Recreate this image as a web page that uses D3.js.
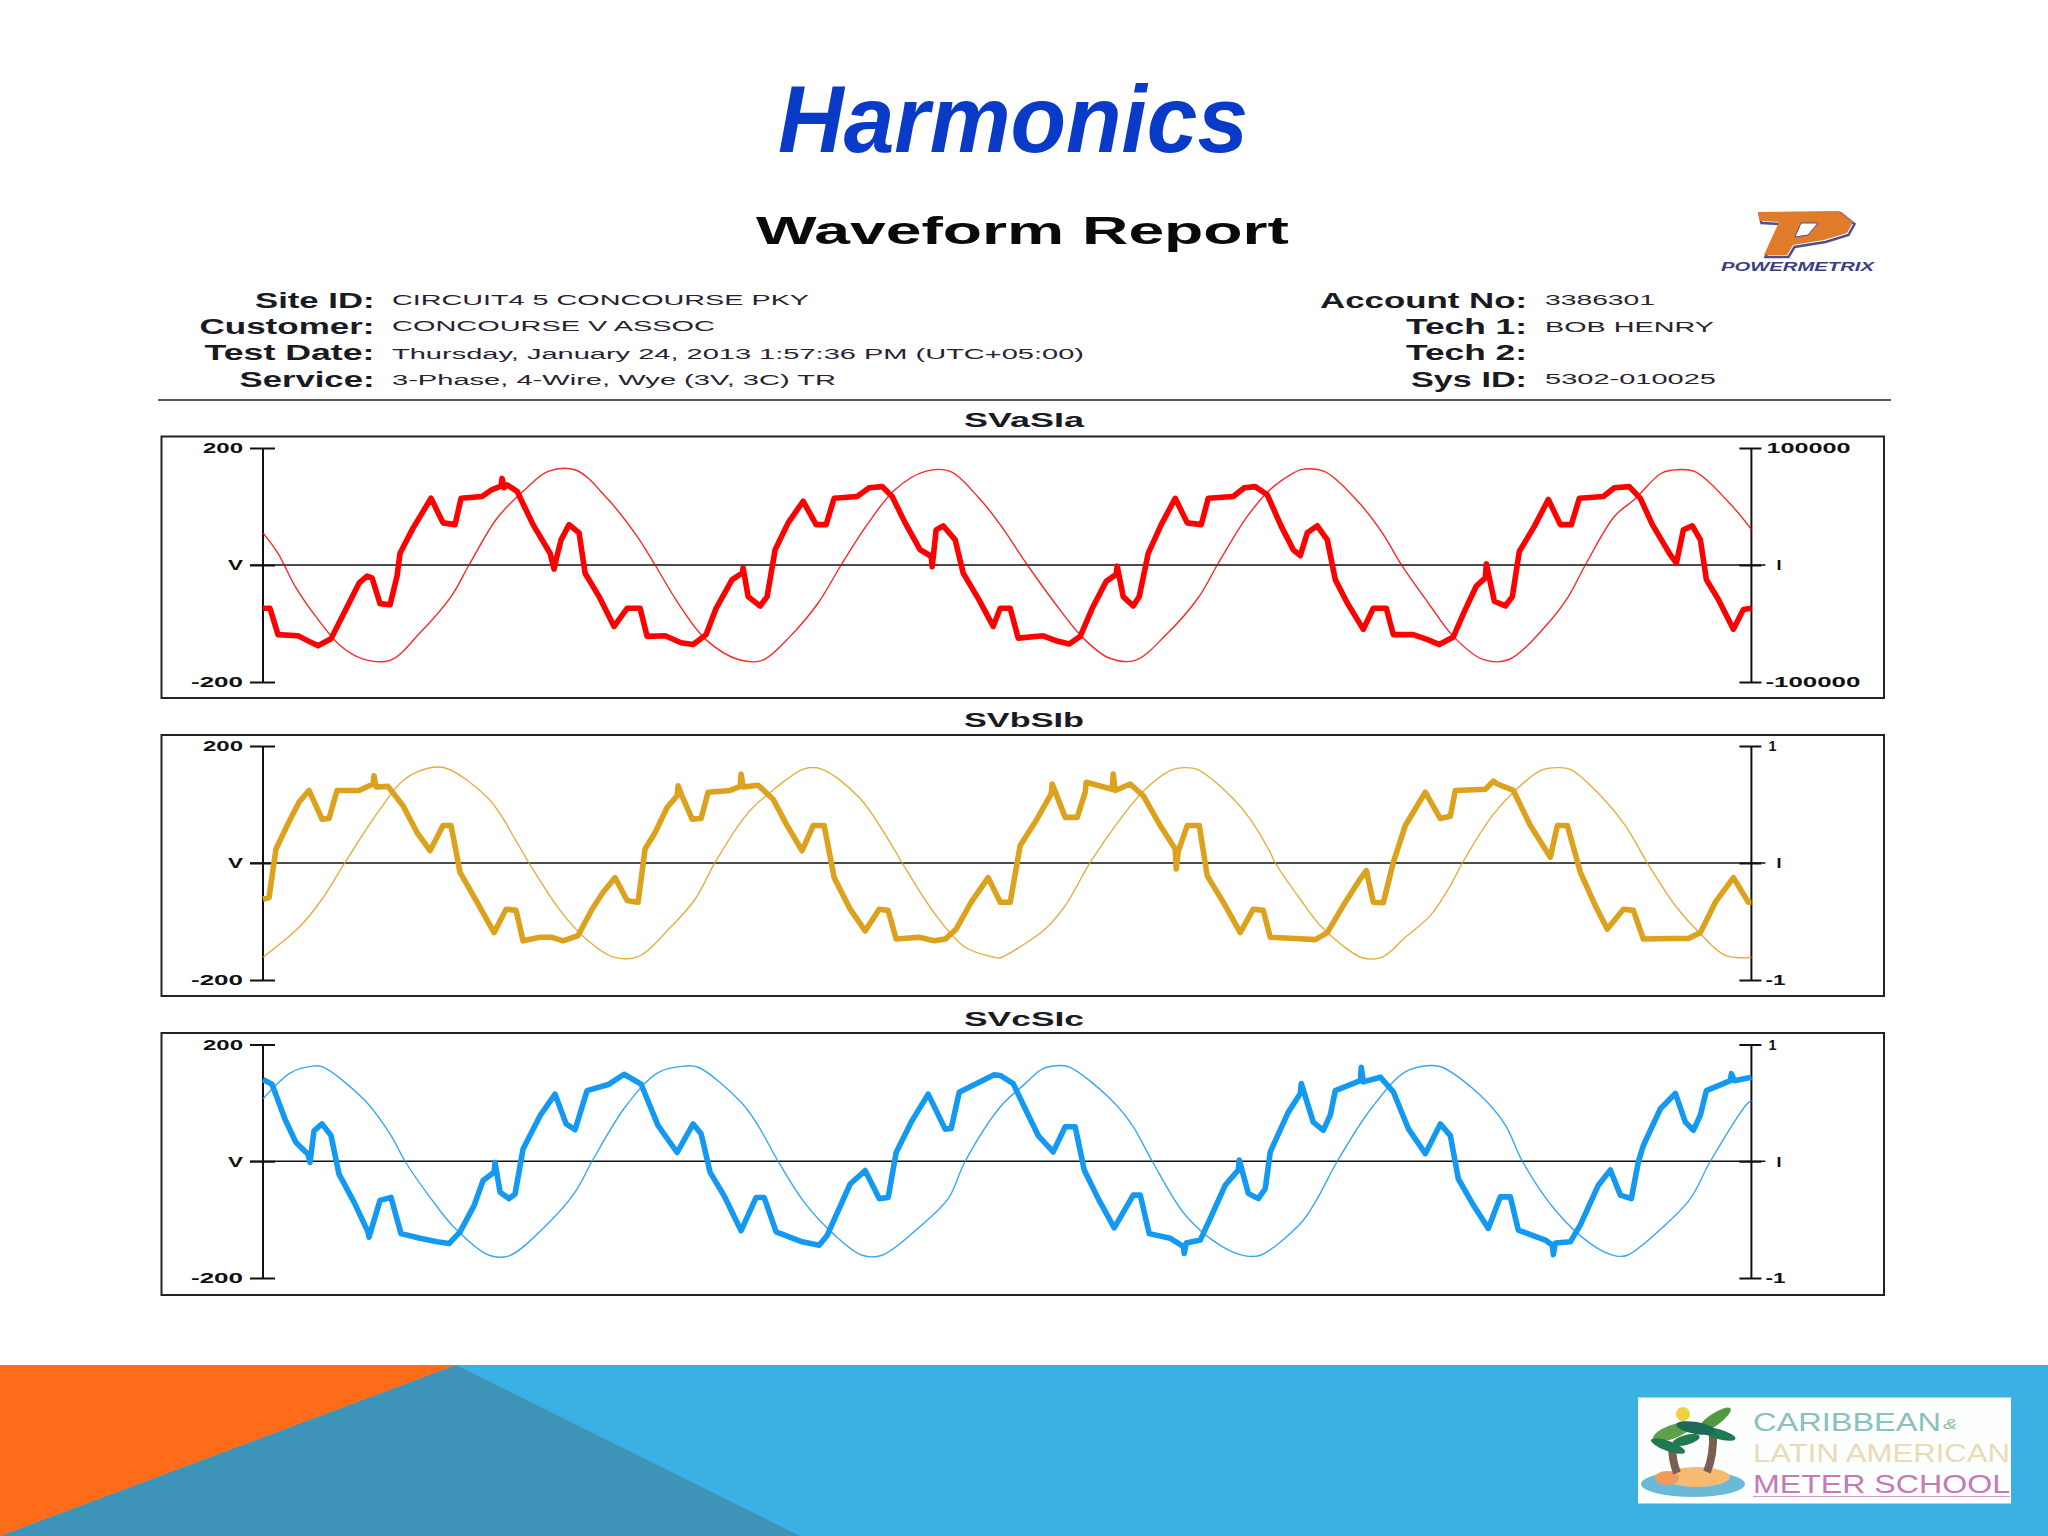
<!DOCTYPE html>
<html><head><meta charset="utf-8">
<script src="https://cdn.jsdelivr.net/npm/d3@7/dist/d3.min.js"></script>
<style>html,body{margin:0;padding:0;background:#fff}svg{display:block}text{font-family:"Liberation Sans",Arial,sans-serif}</style>
</head><body><svg id="c" width="2048" height="1536"></svg>
<script>
// samples are [sample index, value]
const waveVa=[[0,-74],[7,-74],[15,-119],[35,-121],[43,-128],[55,-138],[68,-126],[81,-82],[96,-31],[104,-19],[109,-22],[117,-66],[127,-68],[134,-19],[137,20],[150,63],[168,114],[180,72],[192,69],[198,114],[219,117],[229,129],[238,135],[239,148],[241,132],[244,137],[254,126],[270,69],[287,20],[291,-7],[293,9],[298,43],[306,69],[316,55],[322,-14],[336,-54],[351,-105],[364,-74],[377,-74],[384,-122],[402,-121],[418,-133],[430,-136],[443,-119],[453,-74],[469,-25],[479,-14],[480,-5],[485,-54],[497,-70],[504,-54],[512,26],[525,72],[540,109],[553,69],[563,69],[571,114],[594,117],[606,132],[619,134],[629,117],[642,72],[657,26],[668,15],[669,-3],[673,60],[680,67],[692,43],[700,-14],[716,-60],[730,-105],[737,-74],[747,-74],[755,-125],[780,-121],[794,-130],[806,-135],[817,-122],[829,-74],[843,-28],[853,-16],[854,-2],[860,-54],[870,-70],[876,-54],[885,20],[898,69],[912,114],[924,72],[938,69],[945,114],[970,117],[981,132],[992,134],[1004,120],[1018,66],[1030,26],[1037,16],[1044,55],[1054,67],[1064,43],[1072,-25],[1084,-65],[1100,-110],[1110,-74],[1123,-74],[1130,-119],[1150,-119],[1165,-128],[1176,-136],[1190,-123],[1202,-76],[1213,-36],[1222,-22],[1223,2],[1231,-62],[1242,-70],[1249,-54],[1256,23],[1271,66],[1285,112],[1297,69],[1308,69],[1316,114],[1340,117],[1351,132],[1366,134],[1377,114],[1389,69],[1406,20],[1413,3],[1420,60],[1429,67],[1437,43],[1443,-25],[1455,-59],[1470,-110],[1480,-76],[1488,-74]];
const waveIa=[[0,27500],[15,10000],[32,-18000],[55,-46500],[78,-69500],[99,-80000],[127,-81500],[157,-58000],[188,-27000],[206,0],[234,40000],[262,64500],[285,80000],[313,81000],[344,57000],[374,24500],[392,0],[415,-32500],[443,-64000],[476,-81000],[499,-81500],[527,-61000],[555,-32500],[578,0],[604,34500],[632,64500],[662,80000],[687,80000],[716,57000],[737,34500],[763,1500],[789,-29500],[820,-62500],[846,-79500],[872,-81500],[903,-59500],[935,-28000],[955,1500],[984,41500],[1007,64500],[1030,78500],[1038,81500],[1061,80000],[1096,53000],[1119,27500],[1139,-1000],[1165,-32500],[1190,-61000],[1219,-80500],[1245,-81000],[1285,-49500],[1305,-27000],[1322,0],[1351,41500],[1371,56000],[1397,78000],[1408,81000],[1431,80000],[1466,53000],[1488,30500]];
const waveVb=[[0,-62],[6,-59],[13,24],[25,67],[36,104],[46,124],[59,75],[66,76],[74,124],[96,124],[110,135],[111,149],[113,130],[125,131],[140,98],[154,52],[167,21],[180,64],[188,64],[197,-16],[214,-67],[231,-119],[243,-79],[253,-81],[260,-133],[277,-127],[289,-127],[300,-133],[315,-124],[329,-79],[340,-50],[352,-25],[364,-64],[375,-67],[382,24],[392,52],[404,95],[414,115],[415,132],[418,118],[429,75],[438,76],[445,121],[467,124],[477,131],[478,152],[480,130],[495,133],[510,109],[524,64],[539,21],[550,64],[561,64],[571,-25],[587,-79],[602,-116],[616,-79],[625,-81],[633,-130],[656,-127],[671,-133],[682,-130],[693,-113],[708,-67],[725,-25],[737,-67],[747,-67],[757,30],[772,70],[788,118],[789,135],[802,78],[814,78],[822,121],[823,138],[849,126],[850,152],[852,124],[867,135],[880,115],[897,64],[912,24],[913,-10],[915,20],[924,64],[936,64],[944,-22],[960,-67],[977,-119],[990,-79],[1000,-81],[1007,-127],[1032,-129],[1052,-131],[1064,-119],[1082,-67],[1097,-27],[1103,-13],[1110,-67],[1120,-68],[1130,1],[1142,64],[1162,121],[1177,76],[1187,80],[1192,124],[1222,126],[1230,140],[1234,135],[1250,124],[1267,64],[1287,10],[1294,64],[1304,64],[1317,-16],[1332,-73],[1344,-113],[1360,-79],[1370,-81],[1380,-130],[1407,-129],[1425,-129],[1437,-119],[1452,-67],[1470,-25],[1485,-67],[1488,-67]];
const waveIb=[[0,-.805],[36,-.55],[59,-.31],[82,.005],[117,.46],[140,.705],[165,.81],[183,.81],[226,.545],[254,.175],[266,0],[297,-.405],[323,-.65],[349,-.8],[375,-.8],[409,-.535],[432,-.31],[452,.005],[484,.42],[513,.645],[541,.805],[558,.805],[596,.56],[627,.175],[639,0],[673,-.45],[702,-.72],[731,-.805],[737,-.81],[759,-.705],[782,-.565],[802,-.365],[827,.005],[857,.375],[882,.63],[907,.79],[922,.815],[934,.8],[967,.575],[987,.375],[1007,.09],[1012,0],[1037,-.31],[1057,-.535],[1077,-.69],[1099,-.81],[1119,-.805],[1142,-.635],[1167,-.45],[1187,-.195],[1199,0],[1229,.405],[1252,.62],[1277,.79],[1294,.815],[1307,.8],[1339,.56],[1362,.32],[1384,0],[1412,-.365],[1437,-.605],[1462,-.79],[1488,-.805]];
const waveVc=[[0,140],[9,132],[22,72],[33,32],[45,12],[47,-2],[51,52],[59,64],[68,44],[76,-22],[91,-70],[105,-121],[106,-130],[117,-67],[128,-62],[138,-124],[157,-132],[174,-138],[186,-141],[197,-121],[211,-76],[220,-33],[231,-19],[232,-2],[237,-53],[246,-64],[252,-56],[260,21],[277,78],[292,115],[303,64],[312,54],[324,121],[346,132],[361,149],[378,132],[395,61],[414,15],[430,64],[438,47],[447,-19],[461,-59],[478,-119],[493,-62],[501,-62],[513,-121],[539,-138],[556,-144],[564,-127],[587,-39],[602,-16],[616,-64],[625,-62],[633,15],[648,67],[665,115],[682,55],[688,56],[696,118],[731,148],[737,147],[750,133],[762,90],[775,44],[790,16],[802,59],[812,59],[821,-15],[835,-64],[851,-114],[870,-58],[877,-58],[886,-124],[907,-132],[920,-146],[921,-158],[923,-140],[937,-135],[947,-98],[962,-41],[975,-15],[976,2],[985,-55],[995,-64],[1002,-47],[1007,16],[1025,84],[1037,116],[1038,133],[1050,67],[1060,53],[1067,79],[1072,121],[1097,138],[1098,161],[1100,136],[1117,144],[1130,119],[1145,56],[1162,13],[1177,64],[1187,44],[1195,-30],[1210,-75],[1225,-115],[1237,-61],[1247,-61],[1255,-118],[1282,-135],[1289,-144],[1290,-160],[1292,-140],[1307,-138],[1317,-109],[1335,-41],[1347,-15],[1357,-58],[1368,-64],[1375,-1],[1380,27],[1397,90],[1412,116],[1422,67],[1430,53],[1437,79],[1443,121],[1467,138],[1468,150],[1471,138],[1488,144]];
const waveIc=[[0,.535],[28,.76],[50,.815],[59,.81],[102,.52],[128,.22],[142,0],[168,-.32],[191,-.565],[226,-.805],[246,-.81],[283,-.55],[312,-.265],[329,0],[363,.475],[395,.76],[421,.815],[435,.805],[478,.505],[495,.305],[515,0],[541,-.35],[570,-.62],[599,-.805],[619,-.805],[656,-.565],[685,-.32],[702,0],[737,.465],[762,.665],[779,.79],[797,.82],[807,.805],[847,.535],[869,.31],[889,0],[922,-.46],[957,-.72],[982,-.81],[997,-.805],[1037,-.535],[1054,-.32],[1074,0],[1109,.465],[1142,.765],[1167,.82],[1179,.805],[1217,.565],[1242,.31],[1259,0],[1292,-.42],[1327,-.705],[1352,-.81],[1364,-.805],[1402,-.545],[1427,-.32],[1447,0],[1484,.495],[1488,.52]];

const panelNames=["SVaSIa","SVbSIb","SVcSIc"];
const panelColors=["#ff0000","#dca11d","#1499f2"];
const currentMax=[100000,1,1];
const voltTicks=[-200,0,200];
const leftLabels=["-200","V","200"];
const rightLabels=[["-100000","I","100000"],["-1","I","1"],["-1","I","1"]];
const headerLeft=[["Site ID:","CIRCUIT4 5 CONCOURSE PKY"],["Customer:","CONCOURSE V ASSOC"],["Test Date:","Thursday, January 24, 2013 1:57:36 PM (UTC+05:00)"],["Service:","3-Phase, 4-Wire, Wye (3V, 3C) TR"]];
const headerRight=[["Account No:","3386301"],["Tech 1:","BOB HENRY"],["Tech 2:",""],["Sys ID:","5302-010025"]];

const svg=d3.select("#c");
// footer band
svg.append("rect").attr("x",0).attr("y",1365).attr("width",2048).attr("height",171).attr("fill","#3bb0e2");
svg.append("path").attr("d","M0,1536L456,1365L800,1536Z").attr("fill","#3d94b8");
svg.append("path").attr("d","M0,1365L456,1365L0,1536Z").attr("fill","#fe6b19");

function fitted(parent,str,x,y,w,size,bold,fill,anchor){
  const t=parent.append("text").attr("x",x).attr("y",y).attr("font-size",size).attr("fill",fill||"#111").text(str);
  if(bold)t.attr("font-weight","bold");
  if(anchor)t.attr("text-anchor",anchor);
  if(w)t.attr("textLength",w).attr("lengthAdjust","spacingAndGlyphs");
  return t;
}
// titles
fitted(svg,"Harmonics",778,151.5,470,94,true,"#0a3ac8").attr("font-style","italic");
fitted(svg,"Waveform Report",756,244,533,38,true,"#0a0a0a");

// header
const leftW=[119.5,175,170,135],leftY=[308,334,359.5,387],leftValW=[417,323,692,444],leftValY=[305,331,359,385];
headerLeft.forEach((h,i)=>{
  fitted(svg,h[0],374.5-leftW[i],leftY[i],leftW[i],22,true,"#1a1a22");
  fitted(svg,h[1],392,leftValY[i],leftValW[i],15.5,false,"#2a2030");
});
const rightW=[207,121,121,116],rightY=[308,334,360,387],rightValW=[110,169,0,171],rightValY=[305,331.5,0,384];
headerRight.forEach((h,i)=>{
  fitted(svg,h[0],1527-rightW[i],rightY[i],rightW[i],22,true,"#1a1a22");
  if(h[1])fitted(svg,h[1],1545,rightValY[i],rightValW[i],15.5,false,"#2a2030");
});
svg.append("line").attr("x1",158).attr("x2",1891).attr("y1",400).attr("y2",400).attr("stroke","#222").attr("stroke-width",1.6);

// powermetrix logo
const lg=svg.append("g");
const pPath="M1758,212L1839,211L1853,222L1847,233L1824,240L1793,245L1787,255L1764,255L1779,222L1760,221Z";
lg.append("path").attr("d",pPath).attr("fill","none").attr("stroke","#4a4f90").attr("stroke-width",2.5).attr("transform","translate(1.5,2)");
lg.append("path").attr("d",pPath).attr("fill","#e07b2b");
lg.append("path").attr("d","M1801,223L1818,223L1808,235L1795,237Z").attr("fill","#fff").attr("stroke","#4a4f90").attr("stroke-width",1);
fitted(lg,"POWERMETRIX",1721,271,153,13,true,"#3b3f80").attr("font-style","italic");

// panels
const boxes=[[436.5,698],[735,996],[1033,1295]];
const tickTB=[[448,682],[746,980],[1044.5,1278]];
const titleY=[427,727,1026];
const wavesV=[waveVa,waveVb,waveVc],wavesI=[waveIa,waveIb,waveIc];
const x=d3.scaleLinear().domain([0,1488]).range([263,1751.4]);
panelNames.forEach((name,p)=>{
  const g=svg.append("g");
  g.append("rect").attr("x",161.5).attr("y",boxes[p][0]).attr("width",1722.5).attr("height",boxes[p][1]-boxes[p][0]).attr("fill","#fff").attr("stroke","#222").attr("stroke-width",2);
  fitted(g,name,964,titleY[p],120,21,true,"#1a1a22");
  const yV=d3.scaleLinear().domain([-200,200]).range([tickTB[p][1],tickTB[p][0]]);
  const yI=d3.scaleLinear().domain([-currentMax[p],currentMax[p]]).range([tickTB[p][1],tickTB[p][0]]);
  // zero line
  g.append("line").attr("x1",x(0)-13).attr("x2",x(1488)+14).attr("y1",yV(0)).attr("y2",yV(0)).attr("stroke","#111").attr("stroke-width",1.6);
  // axes
  const axL=d3.axisLeft(yV).tickValues(voltTicks).tickFormat((d,i)=>leftLabels[i]).tickSize(13).tickPadding(7);
  const gl=g.append("g").attr("transform",`translate(${x(0)},0)`).call(axL);
  gl.select(".domain").attr("stroke","#111").attr("stroke-width",2).attr("d",`M0,${tickTB[p][0]}V${tickTB[p][1]}`);
  gl.selectAll(".tick line").attr("stroke","#111").attr("stroke-width",2).attr("x1",-13).attr("x2",12);
  gl.selectAll(".tick text").attr("font-family","'DejaVu Sans',sans-serif").attr("font-weight","bold").attr("font-size",15).attr("fill","#111")
    .attr("textLength",(d,i)=>[52,15,40][i]).attr("lengthAdjust","spacingAndGlyphs");
  const axR=d3.axisRight(yI).tickValues([-currentMax[p],0,currentMax[p]]).tickFormat((d,i)=>rightLabels[p][i]).tickSize(10).tickPadding(16);
  const gr=g.append("g").attr("transform",`translate(${x(1488)},0)`).call(axR);
  gr.select(".domain").attr("stroke","#111").attr("stroke-width",2).attr("d",`M0,${tickTB[p][0]}V${tickTB[p][1]}`);
  gr.selectAll(".tick line").attr("stroke","#111").attr("stroke-width",2).attr("x1",-12).attr("x2",10);
  gr.selectAll(".tick text").attr("font-family","'DejaVu Sans',sans-serif").attr("font-weight","bold").attr("font-size",15).attr("fill","#111");
  if(p===0){
    gr.selectAll(".tick text").attr("textLength",(d,i)=>[95,5,84][i]).attr("lengthAdjust","spacingAndGlyphs")
      .attr("x",(d,i)=>[14,25,15][i]);
  }else{
    gr.selectAll(".tick text").attr("textLength",(d,i)=>[20,5,8][i]).attr("lengthAdjust","spacingAndGlyphs")
      .attr("x",(d,i)=>[14,25,17][i]);
  }
  // curves
  g.append("path").datum(wavesI[p]).attr("fill","none").attr("stroke",panelColors[p]).attr("stroke-width",1.4).attr("opacity",.85)
    .attr("d",d3.line().curve(d3.curveCatmullRom.alpha(.5)).x(d=>x(d[0])).y(d=>yI(d[1])));
  g.append("path").datum(wavesV[p]).attr("fill","none").attr("stroke",panelColors[p]).attr("stroke-width",5.6).attr("stroke-linejoin","round").attr("stroke-linecap","butt")
    .attr("d",d3.line().x(d=>x(d[0])).y(d=>yV(d[1])));
});

// school logo
const sl=svg.append("g");
sl.append("rect").attr("x",1638).attr("y",1397.5).attr("width",373).attr("height",106).attr("fill","#fdfefe");
fitted(sl,"CARIBBEAN",1753,1431,188,26.5,false,"#8cc0bf");
fitted(sl,"&",1943,1429,14,14,false,"#8cc0a0").attr("font-style","italic");
fitted(sl,"LATIN AMERICAN",1753,1462,257,26.5,false,"#e9dbb4");
fitted(sl,"METER SCHOOL",1753,1493,257,26.5,false,"#c679b9");
sl.append("line").attr("x1",1753).attr("x2",2010).attr("y1",1496.5).attr("y2",1496.5).attr("stroke","#c9a0c4").attr("stroke-width",1);
sl.append("ellipse").attr("cx",1693).attr("cy",1484).attr("rx",52).attr("ry",13).attr("fill","#6bb9d8");
sl.append("ellipse").attr("cx",1697).attr("cy",1477).attr("rx",33).attr("ry",10).attr("fill","#f6bb73");
sl.append("ellipse").attr("cx",1667).attr("cy",1478).attr("rx",12).attr("ry",7).attr("fill","#f09a5c");
sl.append("circle").attr("cx",1683).attr("cy",1414).attr("r",7).attr("fill","#f0d040");
sl.append("path").attr("d","M1672,1445Q1672,1460 1677,1473").attr("stroke","#7a5f50").attr("stroke-width",8).attr("fill","none");
sl.append("path").attr("d","M1713,1432Q1714,1455 1707,1472").attr("stroke","#7a5f50").attr("stroke-width",8).attr("fill","none");
[[1672,1432,20,7,-20,"#5fa04a"],[1668,1446,18,5,20,"#1f7a50"],[1686,1440,14,5,-15,"#1f7a50"],[1714,1420,20,6,-35,"#4f9a40"],[1718,1434,18,5,15,"#1f7a50"],[1696,1428,20,6,10,"#1d6a55"]].forEach(l=>{
  sl.append("ellipse").attr("cx",l[0]).attr("cy",l[1]).attr("rx",l[2]).attr("ry",l[3]).attr("fill",l[5]).attr("transform",`rotate(${l[4]},${l[0]},${l[1]})`);
});
</script></body></html>
